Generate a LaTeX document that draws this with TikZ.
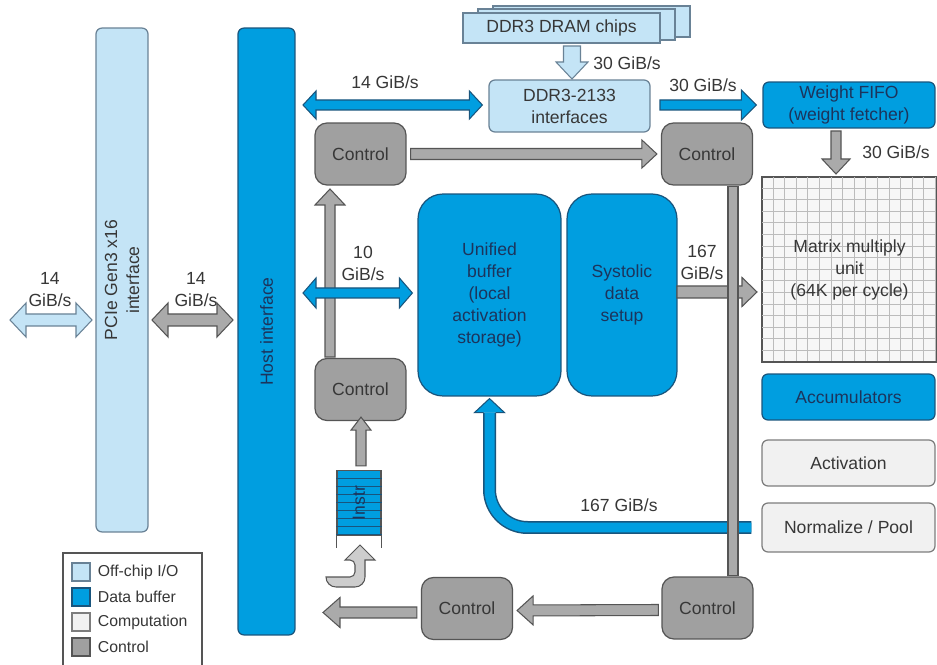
\documentclass[tikz,border=0pt]{standalone}
\usepackage{fontspec}
\setmainfont{Liberation Sans}
\usepackage{tikz}
\usetikzlibrary{calc, positioning}

\definecolor{offchipcol}{RGB}{196,228,246}
\definecolor{offchipbd}{RGB}{105,130,150}
\definecolor{bufcol}{RGB}{0,158,224}
\definecolor{bufbd}{RGB}{25,85,125}
\definecolor{compcol}{RGB}{241,241,241}
\definecolor{compbd}{RGB}{125,125,125}
\definecolor{ctrlcol}{RGB}{160,160,160}
\definecolor{ctrlbd}{RGB}{85,85,85}
\definecolor{navytxt}{RGB}{28,52,92}
\definecolor{txtgray}{RGB}{55,55,55}
\definecolor{arrcol}{RGB}{170,170,170}
\definecolor{lightarr}{RGB}{205,205,205}
\definecolor{gridln}{RGB}{188,188,188}

\newcommand{\diagfont}{\fontsize{10}{12.5}\selectfont}
\newcommand{\legfont}{\fontsize{9}{11}\selectfont}

% fat block arrows: [style]{from}{to}{half shaft}{half head}{head length}
\newcommand{\fatarrow}[6][]{%
  \coordinate (fa-c) at ($(#3)!#6!(#2)$);
  \filldraw[#1] ($(#2)!#4!90:(#3)$) -- ($(fa-c)!#4!90:(#3)$) -- ($(fa-c)!#5!90:(#3)$)
    -- (#3) -- ($(fa-c)!#5!-90:(#3)$) -- ($(fa-c)!#4!-90:(#3)$) -- ($(#2)!#4!-90:(#3)$) -- cycle;}
\newcommand{\fatdarrow}[6][]{%
  \coordinate (fa-a) at ($(#2)!#6!(#3)$);
  \coordinate (fa-b) at ($(#3)!#6!(#2)$);
  \filldraw[#1] (#2) -- ($(fa-a)!#5!90:(#3)$) -- ($(fa-a)!#4!90:(#3)$) -- ($(fa-b)!#4!90:(#3)$)
    -- ($(fa-b)!#5!90:(#3)$) -- (#3) -- ($(fa-b)!#5!-90:(#3)$) -- ($(fa-b)!#4!-90:(#3)$)
    -- ($(fa-a)!#4!-90:(#3)$) -- ($(fa-a)!#5!-90:(#3)$) -- cycle;}

\tikzset{
  box/.style={draw, line width=0.7pt, align=center, inner sep=1pt, font=\diagfont},
  offbox/.style={box, fill=offchipcol, draw=offchipbd, text=txtgray, rounded corners=0.12cm},
  bufbox/.style={box, fill=bufcol, draw=bufbd, text=navytxt, rounded corners=0.12cm},
  compbox/.style={box, fill=compcol, draw=compbd, text=txtgray, rounded corners=0.12cm},
  ctrlbox/.style={box, fill=ctrlcol, draw=ctrlbd, text=txtgray, rounded corners=0.24cm,
    minimum width=1.82cm, minimum height=1.24cm},
  garrow/.style={fill=arrcol, draw=ctrlbd, line width=0.6pt},
  barrow/.style={fill=bufcol, draw=bufbd, line width=0.6pt},
  larrow/.style={fill=offchipcol, draw=offchipbd, line width=0.6pt},
  warrow/.style={fill=lightarr, draw=ctrlbd, line width=0.6pt},
  rate/.style={align=center, font=\diagfont, text=txtgray, inner sep=0pt},
  legsq/.style={draw, line width=0.6pt, minimum size=0.36cm, inner sep=0pt},
  legtxt/.style={anchor=west, font=\legfont, text=txtgray, inner sep=0pt}
}

\begin{document}
\begin{tikzpicture}[x=0.02cm, y=-0.02cm]
  \path[use as bounding box, fill=white] (0,0) rectangle (937,665);

  % off-chip and host side
  \node[offbox, rotate=90, minimum width=10.08cm, minimum height=1.04cm] (pcie) at (122,280) {PCIe Gen3 x16\\interface};
  \node[bufbox, rotate=90, minimum width=12.14cm, minimum height=1.14cm] (host) at (266.5,331.5) {Host interface};

  % DRAM
  \filldraw[fill=offchipcol, draw=offchipbd, line width=0.7pt] (493,6) rectangle (690,37);
  \filldraw[fill=offchipcol, draw=offchipbd, line width=0.7pt] (478,9) rectangle (675,40);
  \node[offbox, rounded corners=0pt, minimum width=3.94cm, minimum height=0.6cm] (chips) at (561.5,28) {DDR3 DRAM chips};
  \node[offbox, minimum width=3.22cm, minimum height=1.04cm] (ddrif) at (569.5,106) {DDR3-2133\\interfaces};

  % right column
  \node[bufbox, minimum width=3.44cm, minimum height=0.92cm] (fifo) at (849,105) {Weight FIFO\\(weight fetcher)};
  \node[box, fill=compcol!60, draw=ctrlbd, rounded corners=0pt, minimum width=3.5cm, minimum height=3.7cm] (mmu) at (849.5,269.5) {};
  \begin{scope}
    \clip (mmu.north west) rectangle (mmu.south east);
    \foreach \gi in {1,...,15}
      \draw[gridln, line width=0.5pt] ($(mmu.north west)+(\gi*11.6,0)$) -- ++(0,185);
    \foreach \gj in {1,...,16}
      \draw[gridln, line width=0.5pt] ($(mmu.north west)+(0,\gj*11.6)$) -- ++(175,0);
  \end{scope}
  \draw[ctrlbd, line width=0.7pt] (mmu.north west) rectangle (mmu.south east);
  \node[rate] (mmutxt) at (mmu.center) {Matrix multiply\\unit\\(64K per cycle)};
  \node[bufbox, minimum width=3.46cm, minimum height=0.92cm] (acc) at (848.5,397) {Accumulators};
  \node[compbox, minimum width=3.46cm, minimum height=0.92cm] (act) at (848.5,463) {Activation};
  \node[compbox, minimum width=3.46cm, minimum height=0.98cm] (norm) at (848.5,527.5) {Normalize / Pool};

  % buffers
  \node[bufbox, rounded corners=0.5cm, minimum width=2.86cm, minimum height=4.04cm] (ubuf) at (489.5,295) {Unified\\buffer\\(local\\activation\\storage)};
  \node[bufbox, rounded corners=0.5cm, minimum width=2.2cm, minimum height=4.04cm] (sds) at (622,295) {Systolic\\data\\setup};

  % control blocks
  \node[ctrlbox] (ctlA) at (360.5,154) {Control};
  \node[ctrlbox] (ctlB) at (707,154) {Control};
  \node[ctrlbox] (ctlC) at (360.5,389.5) {Control};
  \node[ctrlbox] (ctlD) at (467,608.5) {Control};
  \node[ctrlbox] (ctlE) at (707.5,608) {Control};

  % instruction queue
  \node[box, fill=bufcol, draw=ctrlbd, minimum width=0.88cm, minimum height=1.3cm] (instr) at (359,503) {};
  \foreach \sy in {478,486,...,534}
    \draw[bufbd, line width=0.3pt] (instr.west |- 0,\sy) -- (instr.east |- 0,\sy);
  \draw[ctrlbd, line width=0.7pt] (instr.south west) -- ++(0,12);
  \draw[ctrlbd, line width=0.7pt] (instr.south east) -- ++(0,12);
  \node[rate, rotate=90, text=navytxt] (instrtxt) at (instr.center) {Instr};

  % bandwidth arrows
  \coordinate (extL) at (10,320);
  \coordinate (extR) at (92,320);
  \fatdarrow[larrow]{extL}{extR}{0.12cm}{0.34cm}{0.32cm}
  \node[rate] (bwA) at (50,290) {14\\GiB/s};

  \coordinate (hostL) at (152,320);
  \coordinate (hostR) at (233,320);
  \fatdarrow[garrow]{hostL}{hostR}{0.12cm}{0.34cm}{0.32cm}
  \node[rate] (bwB) at (196,290) {14\\GiB/s};

  \coordinate (ddrL) at (303,105);
  \coordinate (ddrR) at ($(ddrif.west)+(-6,-1)$);
  \fatdarrow[barrow]{ddrL}{ddrR}{0.1cm}{0.28cm}{0.26cm}
  \node[rate] (bwC) at (385,82) {14 GiB/s};

  \coordinate (chipS) at (572,46);
  \coordinate (ddrN) at (572,79);
  \fatarrow[larrow]{chipS}{ddrN}{0.17cm}{0.32cm}{0.34cm}
  \node[rate] (bwD) at (627,63) {30 GiB/s};

  \coordinate (ddrE) at (660,105);
  \coordinate (fifoW) at ($(fifo.west)+(-6,0)$);
  \fatarrow[barrow]{ddrE}{fifoW}{0.1cm}{0.3cm}{0.3cm}
  \node[rate] (bwE) at (703,85) {30 GiB/s};

  \coordinate (fifoS) at (836,131);
  \coordinate (mmuN) at (836,174);
  \fatarrow[garrow]{fifoS}{mmuN}{0.1cm}{0.28cm}{0.3cm}
  \node[rate] (bwF) at (896,152) {30 GiB/s};

  \coordinate (ctlAE) at ($(ctlA.east)+(4,0)$);
  \coordinate (ctlBW) at ($(ctlB.west)+(-4,0)$);
  \fatarrow[garrow]{ctlAE}{ctlBW}{0.11cm}{0.28cm}{0.3cm}

  \coordinate (ctlCN) at (330,357);
  \coordinate (ctlAS) at (330,189);
  \fatarrow[garrow]{ctlCN}{ctlAS}{0.1cm}{0.3cm}{0.32cm}

  \coordinate (ubL) at (303,293);
  \coordinate (ubW) at ($(ubuf.west)+(-5,-2)$);
  \fatdarrow[barrow]{ubL}{ubW}{0.1cm}{0.3cm}{0.26cm}
  \node[rate] (bwG) at (363,263) {10\\GiB/s};

  \coordinate (sdsE) at (677,292);
  \coordinate (mmuW) at (757,292);
  \fatarrow[garrow]{sdsE}{mmuW}{0.12cm}{0.29cm}{0.3cm}
  \node[rate] (bwH) at (702,262) {167\\GiB/s};

  \coordinate (ctlEW) at ($(ctlE.west)+(-3,2)$);
  \coordinate (ctlDE) at ($(ctlD.east)+(4,2)$);
  \fatarrow[garrow]{ctlEW}{ctlDE}{0.11cm}{0.29cm}{0.32cm}

  \coordinate (ctlDW) at ($(ctlD.west)+(-4,4)$);
  \coordinate (hostOut) at (323,612.5);
  \fatarrow[garrow]{ctlDW}{hostOut}{0.11cm}{0.3cm}{0.34cm}

  \coordinate (instrN) at ($(instr.north)+(2,-4)$);
  \coordinate (ctlCS) at ($(ctlC.south)+(0.5,-4)$);
  \fatarrow[garrow]{instrN}{ctlCS}{0.1cm}{0.2cm}{0.26cm}

  \filldraw[warrow] (326,577) [rounded corners=0.1cm] -- (355,577) -- (355,560) [sharp corners]
    -- (345,560) -- (360,545) -- (375,560) -- (365,560) [rounded corners=0.2cm] -- (365,587)
    -- (326,587) [sharp corners] -- cycle;

  % result path back to the unified buffer
  \coordinate (normW) at ($(norm.west)+(-10,0)$);
  \coordinate (ubH) at ($(ubuf.south)+(0,16)$);
  \coordinate (ubT) at ($(ubuf.south)+(0,2)$);
  \draw[bufbd, line width=0.26cm, rounded corners=0.76cm] (normW) -| (ubH);
  \draw[bufcol, line width=0.2cm, rounded corners=0.76cm] (normW) -| (ubH);
  \filldraw[barrow] ($(ubH)+(-6,0)$) -- ($(ubH)+(-15,0)$) -- (ubT) -- ($(ubH)+(15,0)$) -- ($(ubH)+(6,0)$);
  \node[rate] (bwI) at (619,505) {167 GiB/s};

  % control bus
  \filldraw[garrow] ($(ctlB.south)+(21,1)$) rectangle ($(ctlE.north)+(30.5,-1)$);

  % legend
  \draw[ctrlbd, line width=0.6pt] (63,667) -- (63,553) -- (202,553) -- (202,667);
  \node[legsq, fill=offchipcol, draw=offchipbd] (lgA) at (81,572) {};
  \node[legsq, fill=bufcol, draw=bufbd] (lgB) at (81,597) {};
  \node[legsq, fill=compcol, draw=compbd] (lgC) at (81,622) {};
  \node[legsq, fill=ctrlcol, draw=ctrlbd] (lgD) at (81,647) {};
  \node[legtxt, right=0.14cm of lgA] (lgAt) {Off-chip I/O};
  \node[legtxt, right=0.14cm of lgB] (lgBt) {Data buffer};
  \node[legtxt, right=0.14cm of lgC] (lgCt) {Computation};
  \node[legtxt, right=0.14cm of lgD] (lgDt) {Control};
\end{tikzpicture}
\end{document}
